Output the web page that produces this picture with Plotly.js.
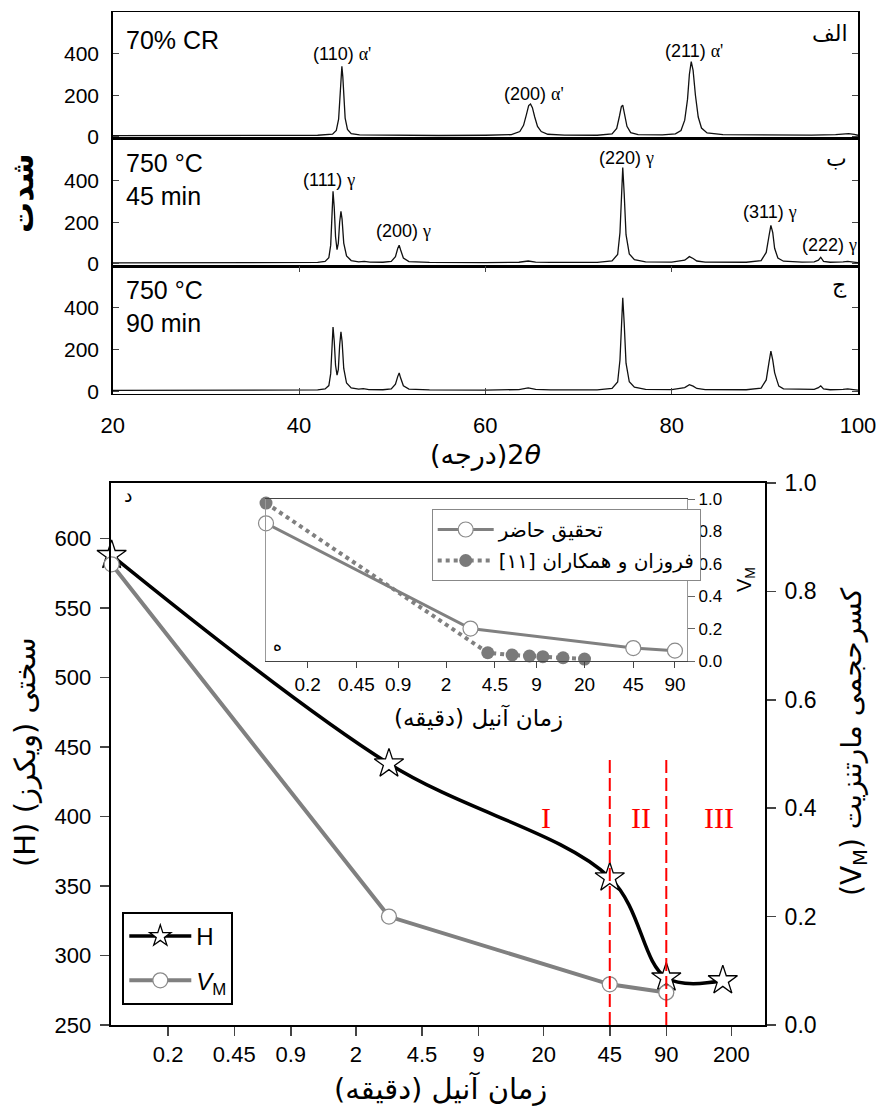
<!DOCTYPE html>
<html><head><meta charset="utf-8">
<script src="https://cdn.plot.ly/plotly-3.0.1.min.js"></script>
<style>body{margin:0;background:#fff}</style>
</head><body><div id="chart" style="width:882px;height:1112px"></div>
<script>
// ---------- XRD data (2θ in degrees, intensity) ----------
const theta_CR = [20,26,32,38,42,43.6,44.0,44.25,44.4,44.5,44.6,44.7,44.8,44.95,45.2,45.6,46.5,50,55,60,62.8,63.7,64.1,64.4,64.65,64.85,65.05,65.3,65.6,66.0,66.7,68.5,72,73.6,74.1,74.4,74.6,74.75,74.95,75.2,75.6,76.4,79,80.4,81.0,81.4,81.7,81.9,82.1,82.3,82.55,82.85,83.2,83.8,85.5,90,95,97.6,98.4,99.0,99.6,100];
const int_CR   = [5,6,5,6,7,12,30,85,180,285,340,290,185,90,35,15,9,7,6,7,10,25,55,105,150,158,140,95,50,25,12,8,7,14,40,100,145,152,110,50,20,10,9,14,30,80,180,300,362,320,200,95,42,18,10,8,8,10,14,15,11,7];

const theta_45 = [20,26,32,38,42,42.8,43.2,43.4,43.52,43.65,43.78,43.92,44.08,44.22,44.36,44.5,44.62,44.8,45.1,45.6,46.4,47.0,47.6,49.0,49.9,50.35,50.6,50.75,50.9,51.2,51.8,54,60,63.6,64.6,65.4,67,72,73.6,74.2,74.45,74.62,74.75,74.9,75.1,75.45,76.0,77.2,80,81.4,81.9,82.3,82.7,83.6,88,89.6,90.15,90.45,90.65,90.85,91.05,91.4,92.0,94,95.3,95.75,96.0,96.3,97,98.4,98.9,99.5,100];
const int_45   = [5,6,5,6,7,12,30,90,230,348,270,130,68,100,200,252,215,100,38,16,10,12,9,8,12,35,75,90,68,28,11,7,6,8,14,9,7,7,14,45,150,380,462,340,140,48,20,10,9,18,35,26,14,9,8,16,55,135,185,150,75,28,13,9,10,18,32,12,8,10,12,9,6];

const theta_90 = [20,26,32,38,42,42.8,43.2,43.4,43.52,43.65,43.78,43.92,44.08,44.22,44.36,44.5,44.62,44.8,45.1,45.6,46.4,46.9,47.5,49.0,49.9,50.35,50.6,50.75,50.9,51.2,51.8,54,60,63.6,64.6,65.4,67,72,73.6,74.2,74.45,74.62,74.75,74.9,75.1,75.45,76.0,77.2,80,81.4,81.9,82.3,82.7,83.6,88,89.6,90.15,90.45,90.65,90.85,91.05,91.25,91.5,92.0,94,95.3,95.75,96.0,96.3,97,98.4,98.9,99.5,100];
const int_90   = [5,6,5,6,7,12,28,85,205,308,240,125,78,105,220,285,240,110,40,17,11,13,9,8,12,35,72,88,65,27,11,7,6,9,17,10,7,7,14,45,150,370,448,330,135,46,20,10,9,18,32,25,14,9,8,16,55,140,193,150,90,60,25,12,9,10,18,27,12,8,10,12,9,6];

// peak labels (2θ, intensity level of label)
const peakText_CR = ["(110)", "(200)", "(211)"];
const peakPhase_CR = ["α'", "α'", "α'"];
const peakX_CR = [44.6, 65.2, 82.4];
const peakY_CR = [400, 205, 414];
const peakText_45 = ["(111)", "(200)", "(220)", "(311)", "(222)"];
const peakPhase_45 = ["γ", "γ", "γ", "γ", "γ"];
const peakX_45 = [43.2, 51.2, 75.2, 90.5, 96.9];
const peakY_45 = [402, 159, 506, 250, 91];

const xrdTicksX = [20, 40, 60, 80, 100];
const xrdTicksY = [0, 200, 400];

// ---------- Hardness / martensite fraction ----------
const anneal_time = [0.1, 3, 45, 90, 180];
const hardness_HV = [588, 438, 356, 284, 282];
const vm_time = [0.1, 3, 45, 90];
const vm_value = [0.85, 0.2, 0.075, 0.06];
const stageBounds = [45, 90];
const stageNames = ["I", "II", "III"];

const timeTicks = [0.2, 0.45, 0.9, 2, 4.5, 9, 20, 45, 90, 200];
const timeTickText = ["0.2", "0.45", "0.9", "2", "4.5", "9", "20", "45", "90", "200"];

// ---------- Inset ----------
const inset_time_present = [0.1, 3, 45, 90];
const inset_vm_present = [0.85, 0.2, 0.08, 0.064];
const inset_time_ref = [0.1, 4, 6, 8, 10, 14, 20];
const inset_vm_ref = [0.975, 0.051, 0.037, 0.031, 0.027, 0.02, 0.012];
const insetTicks = [0.2, 0.45, 0.9, 2, 4.5, 9, 20, 45, 90];
const insetTickText = ["0.2", "0.45", "0.9", "2", "4.5", "9", "20", "45", "90"];

// ---------- layout helpers (pixel -> paper) ----------
const W = 882, H = 1112;
const px = v => v / W;
const py = v => 1 - v / H;
const SANS = "Liberation Sans, Arial, sans-serif";
const AR = "DejaVu Sans, sans-serif";
const SERIF = "Liberation Serif, Times New Roman, serif";

const xrdDomX = [px(112.7), px(858)];
const panels = [[12.3, 138.8], [138.8, 266], [266, 393.5]];

const traces = [];
const xrdSets = [[theta_CR, int_CR], [theta_45, int_45], [theta_90, int_90]];
xrdSets.forEach((s, i) => {
  const k = i === 0 ? "" : String(i + 1);
  traces.push({x: s[0], y: s[1], type: "scatter", mode: "lines", xaxis: "x" + k, yaxis: "y" + k,
    line: {color: "#111", width: 1.3}, showlegend: false, hoverinfo: "skip"});
});

// main chart
traces.push({x: vm_time, y: vm_value, type: "scatter", mode: "lines+markers", xaxis: "x4", yaxis: "y5",
  name: "<i>V</i><sub>M</sub>", legend: "legend", legendgroup: "vm", legendrank: 2,
  line: {color: "#808080", width: 4},
  marker: {symbol: "circle", size: 15, color: "#fff", line: {color: "#8a8a8a", width: 1.3}},
  cliponaxis: false});
traces.push({x: anneal_time, y: hardness_HV, type: "scatter", mode: "lines+markers", xaxis: "x4", yaxis: "y4",
  name: "H", legend: "legend", legendgroup: "h", legendrank: 1,
  line: {color: "#000", width: 3.5, shape: "spline", smoothing: 1},
  marker: {symbol: "star", size: 22, color: "#fff", line: {color: "#000", width: 1.3}},
  cliponaxis: false});

// inset
traces.push({x: inset_time_present, y: inset_vm_present, type: "scatter", mode: "lines+markers", xaxis: "x5", yaxis: "y6",
  name: "تحقیق حاضر", legend: "legend2", legendgroup: "p", legendrank: 1,
  line: {color: "#808080", width: 3},
  marker: {symbol: "circle", size: 15, color: "#fff", line: {color: "#8a8a8a", width: 1.2}},
  cliponaxis: false});
traces.push({x: inset_time_ref, y: inset_vm_ref, type: "scatter", mode: "lines+markers", xaxis: "x5", yaxis: "y6",
  name: "فروزان و همکاران [۱۱]", legend: "legend2", legendgroup: "r", legendrank: 2,
  line: {color: "#808080", width: 4, dash: "dot"},
  marker: {symbol: "circle", size: 13, color: "#7a7a7a"},
  cliponaxis: false});

const layout = {
  width: W, height: H, margin: {l: 0, r: 0, t: 0, b: 0},
  paper_bgcolor: "#fff", plot_bgcolor: "rgba(0,0,0,0)",
  font: {family: SANS, color: "#000"},
  legend: {x: px(122.3), y: py(912), xanchor: "left", yanchor: "top", bgcolor: "#fff",
    bordercolor: "#000", borderwidth: 2, font: {family: SANS, size: 24, color: "#000"},
    tracegroupgap: 10, itemwidth: 62},
  legend2: {x: px(431.7), y: py(509), xanchor: "left", yanchor: "top", bgcolor: "#fff",
    bordercolor: "#888", borderwidth: 1, font: {family: AR, size: 20, color: "#000"},
    tracegroupgap: 2, itemwidth: 56},
  shapes: [],
  annotations: []
};

// XRD axes
panels.forEach((p, i) => {
  const k = i === 0 ? "" : String(i + 1);
  const last = i === 2;
  layout["xaxis" + k] = {domain: xrdDomX, range: [20, 100], anchor: "y" + k,
    showline: true, linecolor: "#000", linewidth: 1.5, mirror: last ? "ticks" : true,
    ticks: last ? "inside" : "", ticklen: 6, tickvals: xrdTicksX, showticklabels: last,
    tickfont: {size: 22, family: SANS}, showgrid: false, zeroline: false, ticklabelstandoff: 12};
  layout["yaxis" + k] = {domain: [py(p[1]), py(p[0])], range: [-10, 600], anchor: "x" + k,
    showline: true, linecolor: "#000", linewidth: 1.5, mirror: "ticks",
    ticks: "inside", ticklen: 6, tickvals: xrdTicksY, tickfont: {size: 21, family: SANS},
    showgrid: false, zeroline: false, ticklabelstandoff: 8};
});

layout.xaxis4 = {type: "log", domain: [px(110.7), px(765)], range: [-1.005, 2.48], anchor: "y4",
  tickvals: timeTicks, ticktext: timeTickText, ticks: "outside", ticklen: 9, tickwidth: 1.5,
  showline: true, linecolor: "#000", linewidth: 2, mirror: true,
  tickfont: {size: 22, family: SANS}, showgrid: false, zeroline: false};
layout.yaxis4 = {domain: [py(1025), py(483)], range: [250, 640], anchor: "x4",
  tick0: 250, dtick: 50, ticks: "outside", ticklen: 9, tickwidth: 1.5,
  showline: true, linecolor: "#000", linewidth: 2, tickfont: {size: 22, family: SANS},
  showgrid: false, zeroline: false, ticklabelstandoff: 4};
layout.yaxis5 = {overlaying: "y4", side: "right", anchor: "x4", range: [0, 1], tick0: 0, dtick: 0.2,
  tickformat: ".1f", ticks: "outside", ticklen: 9, tickwidth: 1.5,
  showline: true, linecolor: "#000", linewidth: 2, tickfont: {size: 23, family: SANS},
  showgrid: false, zeroline: false, ticklabelstandoff: 4};

layout.xaxis5 = {type: "log", domain: [px(266), px(687)], range: [-1, 2.0414], anchor: "y6",
  tickvals: insetTicks, ticktext: insetTickText, ticks: "outside", ticklen: 6, tickwidth: 1,
  showline: true, linecolor: "#444", linewidth: 1.3, mirror: true,
  tickfont: {size: 19, family: SANS}, showgrid: false, zeroline: false};
layout.yaxis6 = {domain: [py(661), py(499)], range: [0, 1], anchor: "x5", side: "right",
  dtick: 0.2, tick0: 0, tickformat: ".1f", ticks: "outside", ticklen: 7, tickwidth: 1, tickcolor: "#666",
  showline: true, linecolor: "#999", linewidth: 1.2, mirror: true,
  tickfont: {size: 17, family: SANS}, showgrid: false, zeroline: false};

// stage boundary lines
stageBounds.forEach(b => {
  layout.shapes.push({type: "line", xref: "x4", yref: "paper", x0: b, x1: b, y0: py(1025), y1: py(758),
    line: {color: "#ff0000", width: 2, dash: "13px,5px"}, layer: "above"});
});

const A = layout.annotations;
function ann(text, x, y, o) {
  A.push(Object.assign({text: text, x: px(x), y: py(y), xref: "paper", yref: "paper", showarrow: false,
    xanchor: "center", yanchor: "middle"}, o || {}));
}
function lbl(phase) { return '&nbsp;<span style="font-family:Liberation Serif,serif">' + phase + '</span>'; }
peakText_CR.forEach((t, i) => A.push({text: t + lbl(peakPhase_CR[i]), x: peakX_CR[i], y: peakY_CR[i], xref: "x", yref: "y",
  showarrow: false, font: {size: 18, family: SANS}, xanchor: "center", yanchor: "middle"}));
peakText_45.forEach((t, i) => A.push({text: t + lbl(peakPhase_45[i]), x: peakX_45[i], y: peakY_45[i], xref: "x2", yref: "y2",
  showarrow: false, font: {size: 18, family: SANS}, xanchor: "center", yanchor: "middle"}));

ann("70% CR", 124, 40, {xanchor: "left", font: {size: 25, family: SANS}});
ann("750 °C<br>45 min", 124, 179, {xanchor: "left", align: "left", font: {size: 25, family: SANS}});
ann("750 °C<br>90 min", 124, 306, {xanchor: "left", align: "left", font: {size: 25, family: SANS}});
ann("الف", 850, 33, {xanchor: "right", font: {size: 22, family: AR}});
ann("ب", 849, 158, {xanchor: "right", font: {size: 22, family: AR}});
ann("ج", 849, 285, {xanchor: "right", font: {size: 22, family: AR}});
ann("(درجه)2<i>θ</i>", 485, 455, {font: {size: 27, family: AR}});
ann("<b>شدت</b>", 22, 193, {textangle: -90, font: {size: 31, family: AR}});

ann("د", 122, 495, {xanchor: "left", font: {size: 19, family: AR}});
ann("ه", 277, 645, {font: {size: 17, family: AR}});
ann("زمان آنیل (دقیقه)", 478, 718, {font: {size: 23, family: AR}});
ann("V<sub>M</sub>", 745, 580, {textangle: -90, font: {size: 20, family: SANS}});

const stageX = [546, 641, 719];
stageNames.forEach((s, i) => ann(s, stageX[i], 817, {font: {size: 30, family: SERIF, color: "#ff0000"}}));

ann("زمان آنیل (دقیقه)", 440, 1088, {font: {size: 29, family: AR}});
ann("(H) سختی (ویکرز)", 25, 752, {textangle: -90, font: {size: 29, family: AR}});
ann("(V<sub>M</sub>) کسرحجمی مارتنزیت", 853, 742, {textangle: -90, font: {size: 28, family: AR}});

Plotly.newPlot("chart", traces, layout, {staticPlot: true, displayModeBar: false});
</script>
</body></html>
